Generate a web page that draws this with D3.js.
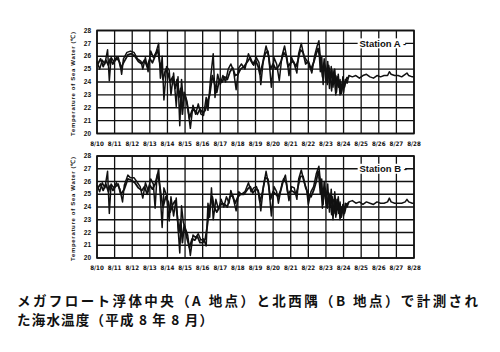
<!DOCTYPE html>
<html>
<head>
<meta charset="utf-8">
<script src="https://cdn.jsdelivr.net/npm/d3@7"></script>
<style>
  body { margin: 0; background: #fff; }
  svg { display: block; }
  text { fill: #111; }
</style>
</head>
<body>
<script>
const width = 500;
const height = 352;

// days from 8/10 00:00
const dayLabels = ["8/10","8/11","8/12","8/13","8/14","8/15","8/16","8/17","8/18","8/19",
  "8/20","8/21","8/22","8/23","8/24","8/25","8/26","8/27","8/28"];
const tempTicks = [20, 21, 22, 23, 24, 25, 26, 27, 28];

// Station A: overlapping sensor traces, [day, temp]
const stationA1 = [[0,25.6],[0.15,25.0],[0.3,25.7],[0.45,25.4],[0.6,26.5],[0.7,24.1],[0.8,25.9],[0.95,25.6],
  [1.1,25.9],[1.3,25.5],[1.4,24.6],[1.5,25.8],[1.7,26.3],[1.9,26.4],[2.1,26.3],[2.3,25.8],[2.5,25.6],[2.6,25.0],
  [2.75,25.9],[2.9,24.8],[3.05,26.4],[3.2,25.9],[3.35,26.3],[3.5,27.0],[3.6,24.3],[3.7,26.0],[3.8,22.6],[3.95,25.2],
  [4.1,24.9],[4.2,23.0],[4.35,24.7],[4.5,22.1],[4.6,24.4],[4.7,20.6],[4.8,24.2],[4.9,22.5],[5.0,23.0],[5.15,22.0],
  [5.3,20.4],[5.45,22.2],[5.6,21.5],[5.75,22.3],[5.9,21.5],[6.05,21.4],[6.2,22.8],[6.3,21.8],[6.45,24.3],[6.6,26.2],
  [6.7,22.8],[6.85,24.6],[7.0,23.8],[7.15,24.5],[7.3,24.0],[7.45,25.0],[7.6,25.4],[7.75,24.9],[7.9,23.4],[8.05,25.1],
  [8.2,25.4],[8.4,25.0],[8.6,26.2],[8.75,25.6],[8.9,25.3],[9.05,25.9],[9.2,25.5],[9.3,23.8],[9.45,25.8],[9.6,26.8],
  [9.75,26.0],[9.9,23.6],[10.05,25.9],[10.2,25.4],[10.35,24.1],[10.5,26.0],[10.65,26.8],[10.8,25.7],[10.9,24.5],
  [11.05,25.9],[11.2,25.4],[11.35,24.7],[11.45,26.2],[11.6,27.0],[11.75,26.0],[11.9,25.7],[12.05,25.3],[12.2,24.7],
  [12.35,26.0],[12.5,26.8],[12.6,27.2],[12.7,25.6],[12.8,24.4],[12.9,25.8],[13.0,24.0],[13.1,25.6],[13.2,23.5],
  [13.3,25.2],[13.4,23.6],[13.5,25.0],[13.6,23.2],[13.7,24.6],[13.8,23.0],[13.9,23.8],[14.0,23.2],[14.1,24.2],
  [14.2,23.9],[14.3,24.5],[14.5,24.4],[14.7,24.5],[14.9,24.3],[15.1,24.5],[15.3,24.6],[15.5,24.4],[15.7,24.3],
  [15.9,24.5],[16.1,24.4],[16.3,24.5],[16.5,24.5],[16.6,24.8],[16.7,24.6],[16.9,24.5],[17.1,24.5],[17.3,24.4],
  [17.5,24.6],[17.6,24.7],[17.7,24.5],[17.9,24.4],[18.0,24.4]];

const stationA2 = [[0.05,25.4],[0.2,25.8],[0.35,25.2],[0.5,25.7],[0.65,25.3],[0.75,25.8],[0.9,25.4],[1.05,25.7],
  [1.2,25.9],[1.35,25.1],[1.55,25.6],[1.75,26.1],[1.95,26.2],[2.15,26.0],[2.35,25.6],[2.55,25.4],[2.7,25.7],
  [2.85,25.2],[3.0,25.8],[3.15,25.5],[3.3,26.0],[3.45,26.5],[3.55,25.6],[3.65,25.1],[3.75,24.2],[3.9,25.0],
  [4.05,24.6],[4.15,24.0],[4.3,24.4],[4.45,23.5],[4.55,24.2],[4.65,22.8],[4.75,23.5],[4.85,21.5],[4.95,23.2],
  [5.1,22.5],[5.25,21.2],[5.4,21.8],[5.55,21.8],[5.7,21.5],[5.85,21.9],[6.0,21.6],[6.15,21.8],[6.25,22.4],
  [6.4,23.0],[6.55,24.5],[6.65,24.0],[6.8,23.2],[6.95,24.2],[7.1,24.0],[7.25,24.4],[7.4,24.2],[7.55,24.8],
  [7.7,25.1],[7.85,24.5],[8.0,24.6],[8.15,25.0],[8.35,25.2],[8.55,25.6],[8.7,25.9],[8.85,25.4],[9.0,25.7],
  [9.15,25.2],[9.25,24.6],[9.4,25.4],[9.55,26.2],[9.7,26.4],[9.85,25.0],[10.0,25.4],[10.15,25.0],[10.3,25.2],
  [10.45,25.6],[10.6,26.3],[10.75,26.0],[10.85,25.2],[11.0,25.5],[11.15,25.6],[11.3,25.2],[11.4,25.6],[11.55,26.5],
  [11.7,26.3],[11.85,25.4],[12.0,25.6],[12.15,25.0],[12.3,25.5],[12.45,26.2],[12.55,26.6],[12.65,26.0],[12.75,25.2],
  [12.85,24.8],[12.95,25.2],[13.05,24.4],[13.15,25.0],[13.25,24.2],[13.35,24.6],[13.45,24.0],[13.55,24.5],
  [13.65,23.8],[13.75,24.0],[13.85,23.5],[13.95,24.0],[14.05,23.6],[14.15,24.2],[14.3,24.4]];

const stationA3 = [[12.6,26.6],[12.68,24.8],[12.76,26.0],[12.84,23.8],[12.92,25.4],[13.0,25.0],[13.08,23.8],
  [13.16,25.3],[13.24,24.6],[13.32,23.3],[13.4,24.9],[13.48,24.2],[13.56,23.0],[13.64,24.4],[13.72,23.6],
  [13.8,24.2],[13.88,23.1],[13.96,24.4],[14.04,23.8],[14.12,24.0],[14.2,24.4]];

// Station B
const stationB1 = [[0,25.7],[0.15,25.2],[0.3,25.9],[0.45,25.5],[0.6,26.8],[0.7,23.5],[0.8,25.8],[0.95,25.5],
  [1.1,25.9],[1.3,25.4],[1.45,24.4],[1.55,25.7],[1.75,26.5],[1.9,26.3],[2.1,26.3],[2.3,25.9],[2.45,25.6],[2.6,24.7],
  [2.75,25.9],[2.9,25.3],[3.05,26.2],[3.2,25.8],[3.3,23.9],[3.4,26.3],[3.5,27.0],[3.6,24.8],[3.7,22.4],[3.8,25.5],
  [3.95,24.9],[4.1,22.9],[4.2,24.8],[4.35,23.3],[4.5,24.7],[4.6,22.4],[4.7,20.4],[4.8,24.1],[4.9,22.8],[5.0,22.4],
  [5.15,21.8],[5.3,20.2],[5.45,21.8],[5.6,21.6],[5.75,21.9],[5.9,21.4],[6.05,21.5],[6.2,20.95],[6.3,24.3],[6.4,23.2],
  [6.5,25.5],[6.6,23.0],[6.75,24.6],[6.9,23.8],[7.05,24.6],[7.2,24.0],[7.35,24.8],[7.5,24.3],[7.6,25.3],[7.75,24.6],
  [7.9,23.7],[8.05,25.2],[8.2,25.0],[8.4,25.2],[8.6,25.9],[8.75,25.2],[8.9,25.5],[9.05,25.6],[9.2,25.0],[9.3,23.7],
  [9.45,25.6],[9.6,26.8],[9.75,25.7],[9.9,23.3],[10.05,25.6],[10.2,25.2],[10.3,24.3],[10.5,25.8],[10.7,26.5],
  [10.8,25.4],[10.9,24.5],[11.05,25.6],[11.2,25.5],[11.35,24.6],[11.45,26.2],[11.6,26.9],[11.75,26.0],[11.9,25.4],
  [12.0,24.2],[12.15,25.2],[12.3,25.6],[12.45,26.6],[12.6,27.2],[12.7,25.8],[12.8,23.9],[12.9,26.0],[13.0,24.3],
  [13.1,25.8],[13.2,23.6],[13.3,25.4],[13.4,23.0],[13.5,25.2],[13.6,23.4],[13.7,24.8],[13.8,23.0],[13.9,24.0],
  [14.0,23.3],[14.1,24.3],[14.2,24.0],[14.3,24.4],[14.5,24.5],[14.7,24.3],[14.9,24.4],[15.1,24.2],[15.3,24.4],
  [15.5,24.3],[15.7,24.2],[15.9,24.4],[16.1,24.3],[16.3,24.3],[16.5,24.4],[16.6,24.7],[16.7,24.4],[16.9,24.3],
  [17.1,24.3],[17.3,24.3],[17.5,24.4],[17.6,24.6],[17.7,24.4],[17.9,24.3],[18.0,24.3]];

const stationB2 = [[0.05,25.5],[0.2,25.8],[0.35,25.3],[0.5,25.8],[0.65,25.2],[0.75,25.7],[0.9,25.3],[1.05,25.6],
  [1.2,25.8],[1.35,25.0],[1.55,25.4],[1.75,26.2],[1.95,26.1],[2.15,25.9],[2.35,25.5],[2.55,25.3],[2.7,25.6],
  [2.85,25.0],[3.0,25.7],[3.15,25.4],[3.3,25.8],[3.45,26.6],[3.55,25.8],[3.65,24.8],[3.75,24.0],[3.9,24.8],
  [4.05,24.4],[4.15,23.6],[4.3,24.2],[4.45,24.5],[4.55,23.4],[4.65,22.0],[4.75,23.0],[4.85,21.2],[4.95,22.6],
  [5.1,21.6],[5.25,20.8],[5.4,21.5],[5.55,21.4],[5.7,21.7],[5.85,21.2],[6.0,21.2],[6.15,21.5],[6.25,22.4],
  [6.4,24.0],[6.55,24.8],[6.65,24.0],[6.8,23.6],[6.95,24.0],[7.1,24.3],[7.25,24.2],[7.4,24.0],[7.55,24.8],
  [7.7,24.9],[7.85,24.3],[8.0,24.8],[8.15,25.0],[8.35,25.0],[8.55,25.4],[8.7,25.6],[8.85,25.1],[9.0,25.4],
  [9.15,25.3],[9.25,24.4],[9.4,25.2],[9.55,26.3],[9.7,26.2],[9.85,24.6],[10.0,25.2],[10.15,25.0],[10.3,24.8],
  [10.45,25.4],[10.6,26.2],[10.75,25.9],[10.85,25.0],[11.0,25.3],[11.15,25.2],[11.3,25.0],[11.4,25.5],[11.55,26.4],
  [11.7,26.4],[11.85,25.5],[12.0,25.0],[12.15,24.8],[12.3,25.3],[12.45,26.0],[12.55,26.8],[12.65,26.2],[12.75,25.0],
  [12.85,24.6],[12.95,25.4],[13.05,24.0],[13.15,25.1],[13.25,24.0],[13.35,24.8],[13.45,23.5],[13.55,24.6],
  [13.65,23.8],[13.75,24.2],[13.85,23.4],[13.95,23.8],[14.05,23.5],[14.15,24.1],[14.3,24.4]];

const stationB3 = [[12.6,26.4],[12.68,25.0],[12.76,26.2],[12.84,24.2],[12.92,25.6],[13.0,25.2],[13.08,23.9],
  [13.16,25.0],[13.24,24.8],[13.32,23.4],[13.4,24.6],[13.48,24.4],[13.56,23.2],[13.64,24.6],[13.72,23.5],
  [13.8,24.4],[13.88,23.2],[13.96,24.2],[14.04,23.6],[14.12,24.1],[14.2,24.3]];

const captionLines = [
  "メガフロート浮体中央（A 地点）と北西隅（B 地点）で計測され",
  "た海水温度（平成 8 年 8 月）"
];

const svg = d3.select("body").append("svg")
  .attr("width", width)
  .attr("height", height);

const x = d3.scaleLinear().domain([0, 18]).range([97, 414]);

const panels = [
  { name: "Station A", top: 30.5, bottom: 133.5, series: [stationA1, stationA2, stationA3], labelY: 146 },
  { name: "Station B", top: 156, bottom: 258, series: [stationB1, stationB2, stationB3], labelY: 270 }
];

panels.forEach(p => {
  const y = d3.scaleLinear().domain([20, 28]).range([p.bottom, p.top]);
  const g = svg.append("g");

  // grid
  g.selectAll(".hg").data(tempTicks).enter().append("line")
    .attr("x1", x(0)).attr("x2", x(18))
    .attr("y1", d => y(d)).attr("y2", d => y(d))
    .attr("stroke", "#111").attr("stroke-width", 1.3);
  g.selectAll(".vg").data(d3.range(dayLabels.length)).enter().append("line")
    .attr("x1", d => x(d)).attr("x2", d => x(d))
    .attr("y1", y(20)).attr("y2", y(28))
    .attr("stroke", "#111").attr("stroke-width", 1.3);
  g.append("rect")
    .attr("x", x(0)).attr("y", y(28))
    .attr("width", x(18) - x(0)).attr("height", y(20) - y(28))
    .attr("fill", "none").attr("stroke", "#111").attr("stroke-width", 1.6);

  // station label over the 27 line
  g.append("rect")
    .attr("x", x(14.8)).attr("y", y(27) - 5)
    .attr("width", x(17.5) - x(14.8)).attr("height", 10)
    .attr("fill", "#fff");
  g.append("text")
    .attr("x", x(14.9)).attr("y", y(27) + 3.5)
    .attr("font-family", "Liberation Sans, Arial, sans-serif")
    .attr("font-size", 9.5).attr("font-weight", "bold")
    .text(p.name + " -");

  // traces
  const line = d3.line().x(d => x(d[0])).y(d => y(d[1]));
  p.series.forEach((s, i) => {
    g.append("path").datum(s)
      .attr("d", line)
      .attr("fill", "none")
      .attr("stroke", "#111")
      .attr("stroke-width", i === 1 ? 1.8 : 1.5)
      .attr("stroke-linejoin", "round");
  });

  // y tick labels
  g.selectAll(".yl").data(tempTicks).enter().append("text")
    .attr("x", 91).attr("y", d => y(d) + 2.2)
    .attr("text-anchor", "end")
    .attr("font-family", "Liberation Sans, Arial, sans-serif")
    .attr("font-size", 6.5).attr("font-weight", "bold")
    .text(d => d);

  // x tick labels
  g.selectAll(".xl").data(dayLabels).enter().append("text")
    .attr("x", (d, i) => x(i)).attr("y", p.labelY)
    .attr("text-anchor", "middle")
    .attr("font-family", "DejaVu Sans Condensed, Liberation Sans Narrow, sans-serif")
    .attr("font-size", 6.2).attr("font-weight", "bold")
    .text(d => d);

  // y title
  const cy = (p.top + p.bottom) / 2 + 2;
  g.append("text")
    .attr("transform", `translate(75,${cy}) rotate(-90)`)
    .attr("text-anchor", "middle")
    .attr("font-family", "Liberation Sans, Arial, sans-serif")
    .attr("font-size", 6).attr("font-weight", "bold")
    .attr("textLength", 104).attr("lengthAdjust", "spacing")
    .text("Temperature of Sea Water (℃)");
});

// caption
svg.selectAll(".cap").data(captionLines).enter().append("text")
  .attr("x", 17).attr("y", (d, i) => 306 + i * 19)
  .attr("font-family", "Noto Sans CJK JP, sans-serif")
  .attr("font-size", 13.5).attr("font-weight", "bold")
  .attr("textLength", (d, i) => i === 0 ? 461 : 196)
  .attr("lengthAdjust", "spacing")
  .text(d => d);
</script>
</body>
</html>
